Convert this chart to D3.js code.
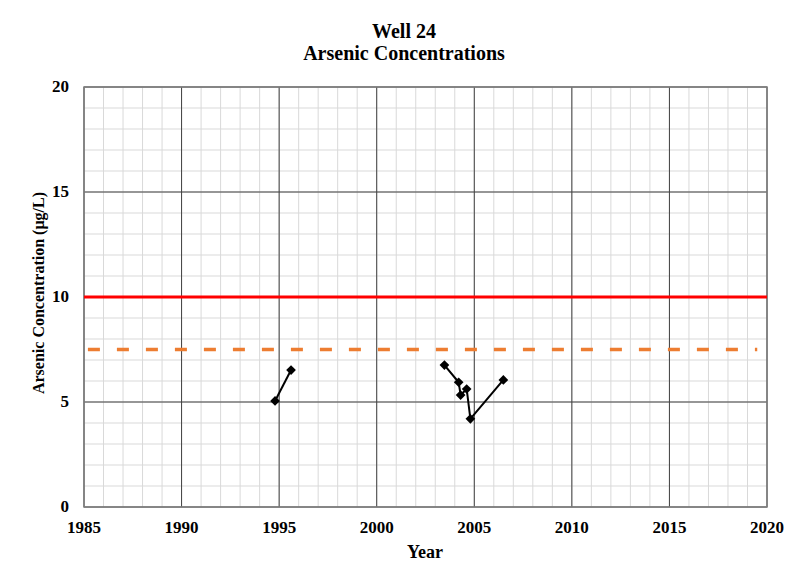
<!DOCTYPE html>
<html lang="en">
<head>
<meta charset="UTF-8">
<title>Well 24 Arsenic Concentrations</title>
<script src="https://d3js.org/d3.v7.min.js"></script>
<style>
    body { margin: 0; background: #fff; }
    text { font-family: "Liberation Serif", "Times New Roman", serif; font-weight: bold; fill: #000; }
    .minor line { stroke: #d9d9d9; stroke-width: 1px; }
    .major line { stroke: #404040; stroke-width: 1px; }
</style>
</head>
<body>
<svg width="795" height="562"></svg>
<script>
    // sample dates (decimal year) and concentrations, split where the line breaks
    const series1Years = [1994.79, 1995.61];
    const series1Values = [5.05, 6.52];
    const series2Years = [2003.47, 2004.20, 2004.30, 2004.61, 2004.80, 2006.49];
    const series2Values = [6.76, 5.94, 5.33, 5.62, 4.2, 6.05];

    const mcl = 10;          // red solid line
    const actionLevel = 7.5; // orange dashed line

    const xTicks = [1985, 1990, 1995, 2000, 2005, 2010, 2015, 2020];
    const yTicks = [0, 5, 10, 15, 20];

    const svg = d3.select("svg");
    const margin = {left: 84, top: 87, right: 28, bottom: 55};
    const w = 795 - margin.left - margin.right;
    const h = 562 - margin.top - margin.bottom;

    const x = d3.scaleLinear().domain([1985, 2020]).range([0, w]);
    const y = d3.scaleLinear().domain([0, 20]).range([h, 0]);

    const g = svg.append("g").attr("transform", `translate(${margin.left},${margin.top})`);

    // minor grid, every 1 year / 1 unit
    const minor = g.append("g").attr("class", "minor");
    minor.selectAll(".vx").data(d3.range(1985, 2021, 1)).enter().append("line")
        .attr("x1", d => x(d)).attr("x2", d => x(d)).attr("y1", 0).attr("y2", h);
    minor.selectAll(".hy").data(d3.range(0, 21, 1)).enter().append("line")
        .attr("y1", d => y(d)).attr("y2", d => y(d)).attr("x1", 0).attr("x2", w);

    // major grid
    const major = g.append("g").attr("class", "major");
    major.selectAll(".vx").data(xTicks).enter().append("line")
        .attr("x1", d => x(d)).attr("x2", d => x(d)).attr("y1", 0).attr("y2", h);
    major.selectAll(".hy").data(yTicks).enter().append("line")
        .attr("y1", d => y(d)).attr("y2", d => y(d)).attr("x1", 0).attr("x2", w);

    g.append("rect").attr("width", w).attr("height", h)
        .attr("fill", "none").attr("stroke", "#808080").attr("stroke-width", 1.5);

    // tick labels
    g.selectAll(".xl").data(xTicks).enter().append("text")
        .attr("x", d => x(d)).attr("y", h + 26)
        .attr("text-anchor", "middle").attr("font-size", 17).text(d => d);
    g.selectAll(".yl").data(yTicks).enter().append("text")
        .attr("x", -15).attr("y", d => y(d) + 5)
        .attr("text-anchor", "end").attr("font-size", 17).text(d => d);

    // reference lines
    g.append("line").attr("x1", 0).attr("x2", w)
        .attr("y1", y(mcl)).attr("y2", y(mcl))
        .attr("stroke", "#ff0000").attr("stroke-width", 3);
    g.append("line").attr("x1", x(1985.2)).attr("x2", x(2019.5))
        .attr("y1", y(actionLevel)).attr("y2", y(actionLevel))
        .attr("stroke", "#ed7d31").attr("stroke-width", 3.5)
        .attr("stroke-dasharray", "12,17");

    // data
    const line = d3.line().x(d => x(d[0])).y(d => y(d[1]));
    const groups = [
        d3.zip(series1Years, series1Values),
        d3.zip(series2Years, series2Values)
    ];
    g.selectAll(".series").data(groups).enter().append("path")
        .attr("d", line).attr("fill", "none")
        .attr("stroke", "#000").attr("stroke-width", 2);

    const diamond = d3.symbol().type(d3.symbolDiamond2).size(60);
    g.selectAll(".pt").data(groups.flat()).enter().append("path")
        .attr("d", diamond)
        .attr("transform", d => `translate(${x(d[0])},${y(d[1])})`)
        .attr("fill", "#000");

    // titles
    svg.append("text").attr("x", 404).attr("y", 38)
        .attr("text-anchor", "middle").attr("font-size", 20).text("Well 24");
    svg.append("text").attr("x", 404).attr("y", 60)
        .attr("text-anchor", "middle").attr("font-size", 20).text("Arsenic Concentrations");
    svg.append("text").attr("x", 425).attr("y", 558)
        .attr("text-anchor", "middle").attr("font-size", 18).text("Year");
    svg.append("text")
        .attr("transform", `translate(44,${margin.top + y(10) - 4}) rotate(-90)`)
        .attr("text-anchor", "middle").attr("font-size", 16)
        .text("Arsenic Concentration (µg/L)");
</script>
</body>
</html>
